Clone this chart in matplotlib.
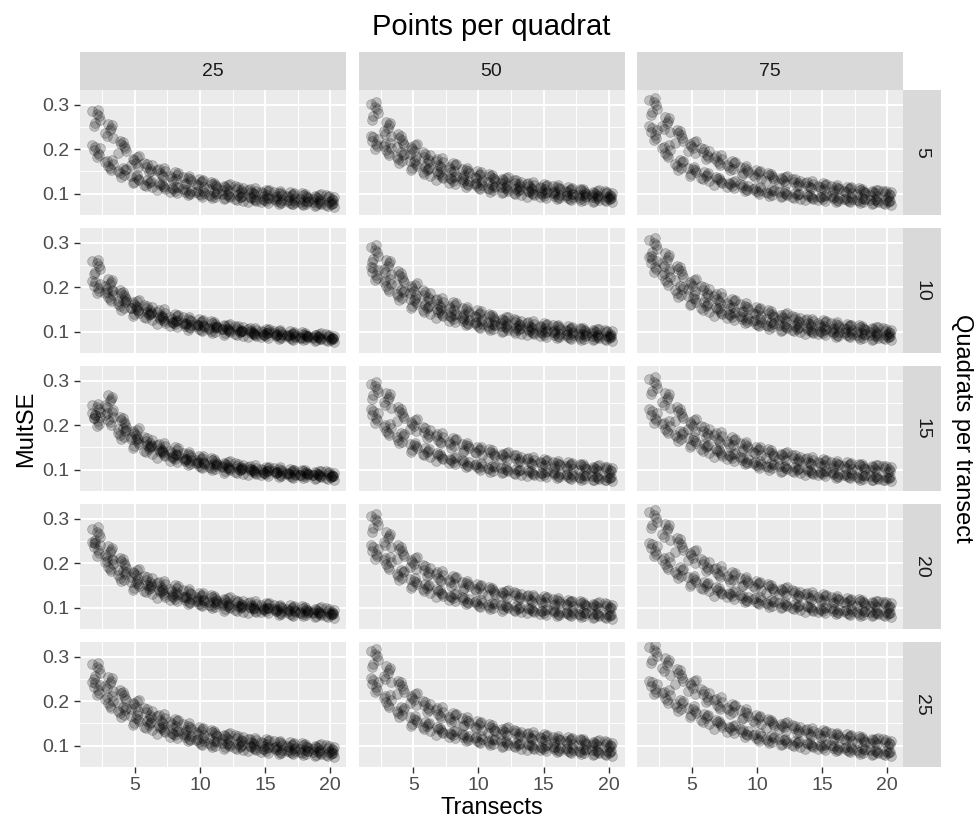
import numpy as np
import matplotlib.pyplot as plt

plt.rcParams['font.family'] = ['Liberation Sans', 'DejaVu Sans']

# facets
points_per_quadrat = [25, 50, 75]
quadrats_per_transect = [5, 10, 15, 20, 25]
transects = np.arange(2, 21)

# upper and lower band of MultSE for transects 2..20
hi_25_5 = [0.27, 0.24, 0.205, 0.172, 0.158, 0.148, 0.138, 0.13, 0.124, 0.118, 0.113, 0.109, 0.105, 0.102, 0.099, 0.096, 0.094, 0.092, 0.09]
lo_25_5 = [0.195, 0.165, 0.148, 0.132, 0.122, 0.116, 0.108, 0.103, 0.1, 0.096, 0.093, 0.09, 0.087, 0.085, 0.083, 0.081, 0.079, 0.077, 0.075]
hi_50_5 = [0.285, 0.245, 0.218, 0.198, 0.18, 0.168, 0.158, 0.148, 0.14, 0.134, 0.128, 0.123, 0.118, 0.114, 0.111, 0.107, 0.104, 0.101, 0.099]
lo_50_5 = [0.215, 0.2, 0.18, 0.165, 0.15, 0.14, 0.13, 0.124, 0.118, 0.112, 0.108, 0.104, 0.1, 0.097, 0.094, 0.092, 0.09, 0.088, 0.086]
hi_75_5 = [0.295, 0.255, 0.228, 0.205, 0.19, 0.175, 0.163, 0.152, 0.143, 0.137, 0.13, 0.125, 0.12, 0.116, 0.112, 0.108, 0.105, 0.102, 0.1]
lo_75_5 = [0.235, 0.195, 0.165, 0.15, 0.138, 0.128, 0.12, 0.113, 0.107, 0.102, 0.098, 0.095, 0.092, 0.09, 0.088, 0.086, 0.084, 0.082, 0.08]

hi_25_10 = [0.245, 0.205, 0.18, 0.16, 0.15, 0.14, 0.13, 0.125, 0.12, 0.115, 0.11, 0.106, 0.102, 0.1, 0.097, 0.094, 0.092, 0.09, 0.088]
lo_25_10 = [0.2, 0.18, 0.16, 0.145, 0.135, 0.125, 0.118, 0.112, 0.108, 0.104, 0.1, 0.097, 0.094, 0.092, 0.09, 0.088, 0.086, 0.084, 0.082]
hi_50_10 = [0.275, 0.245, 0.22, 0.195, 0.18, 0.165, 0.155, 0.145, 0.138, 0.13, 0.125, 0.12, 0.115, 0.112, 0.108, 0.105, 0.102, 0.1, 0.097]
lo_50_10 = [0.23, 0.205, 0.182, 0.165, 0.15, 0.14, 0.13, 0.122, 0.116, 0.11, 0.106, 0.102, 0.098, 0.095, 0.092, 0.09, 0.088, 0.086, 0.084]
hi_75_10 = [0.29, 0.258, 0.232, 0.205, 0.19, 0.175, 0.163, 0.153, 0.145, 0.138, 0.132, 0.126, 0.121, 0.117, 0.113, 0.11, 0.107, 0.104, 0.101]
lo_75_10 = [0.25, 0.22, 0.19, 0.17, 0.155, 0.145, 0.135, 0.127, 0.12, 0.114, 0.109, 0.105, 0.101, 0.098, 0.095, 0.093, 0.09, 0.088, 0.086]

hi_25_15 = [0.232, 0.25, 0.205, 0.18, 0.162, 0.15, 0.14, 0.13, 0.123, 0.117, 0.112, 0.107, 0.103, 0.1, 0.098, 0.095, 0.093, 0.091, 0.09]
lo_25_15 = [0.212, 0.215, 0.18, 0.16, 0.145, 0.135, 0.125, 0.118, 0.11, 0.105, 0.1, 0.097, 0.094, 0.092, 0.09, 0.088, 0.086, 0.084, 0.082]
hi_50_15 = [0.278, 0.255, 0.225, 0.2, 0.183, 0.17, 0.16, 0.15, 0.142, 0.136, 0.13, 0.125, 0.12, 0.116, 0.112, 0.109, 0.106, 0.103, 0.1]
lo_50_15 = [0.22, 0.19, 0.17, 0.15, 0.138, 0.128, 0.12, 0.113, 0.107, 0.102, 0.098, 0.095, 0.092, 0.09, 0.088, 0.085, 0.083, 0.081, 0.079]
hi_75_15 = [0.288, 0.255, 0.225, 0.2, 0.185, 0.172, 0.161, 0.152, 0.142, 0.136, 0.13, 0.125, 0.12, 0.116, 0.112, 0.109, 0.106, 0.104, 0.102]
lo_75_15 = [0.22, 0.195, 0.175, 0.162, 0.148, 0.137, 0.128, 0.12, 0.112, 0.107, 0.102, 0.098, 0.094, 0.091, 0.088, 0.086, 0.083, 0.081, 0.079]

hi_25_20 = [0.262, 0.222, 0.198, 0.175, 0.16, 0.15, 0.14, 0.132, 0.125, 0.12, 0.115, 0.11, 0.107, 0.104, 0.1, 0.098, 0.096, 0.094, 0.092]
lo_25_20 = [0.232, 0.195, 0.17, 0.15, 0.14, 0.13, 0.122, 0.115, 0.11, 0.105, 0.1, 0.097, 0.095, 0.093, 0.09, 0.088, 0.086, 0.084, 0.082]
hi_50_20 = [0.29, 0.252, 0.225, 0.2, 0.183, 0.17, 0.16, 0.15, 0.143, 0.137, 0.131, 0.126, 0.121, 0.117, 0.113, 0.11, 0.107, 0.105, 0.103]
lo_50_20 = [0.225, 0.2, 0.173, 0.155, 0.143, 0.132, 0.123, 0.115, 0.109, 0.104, 0.1, 0.096, 0.093, 0.09, 0.088, 0.086, 0.084, 0.082, 0.08]
hi_75_20 = [0.298, 0.27, 0.24, 0.215, 0.195, 0.18, 0.168, 0.158, 0.15, 0.143, 0.137, 0.131, 0.126, 0.122, 0.118, 0.114, 0.111, 0.108, 0.106]
lo_75_20 = [0.23, 0.2, 0.178, 0.16, 0.147, 0.136, 0.128, 0.12, 0.115, 0.109, 0.105, 0.101, 0.097, 0.094, 0.092, 0.09, 0.088, 0.086, 0.084]

hi_25_25 = [0.268, 0.238, 0.21, 0.19, 0.172, 0.16, 0.15, 0.14, 0.132, 0.126, 0.12, 0.115, 0.11, 0.107, 0.104, 0.101, 0.098, 0.096, 0.094]
lo_25_25 = [0.228, 0.198, 0.175, 0.157, 0.145, 0.135, 0.125, 0.117, 0.109, 0.104, 0.1, 0.096, 0.093, 0.09, 0.088, 0.086, 0.084, 0.082, 0.08]
hi_50_25 = [0.296, 0.26, 0.23, 0.205, 0.188, 0.174, 0.163, 0.153, 0.145, 0.138, 0.132, 0.127, 0.122, 0.118, 0.114, 0.111, 0.108, 0.105, 0.103]
lo_50_25 = [0.235, 0.2, 0.175, 0.155, 0.143, 0.133, 0.125, 0.118, 0.113, 0.108, 0.104, 0.1, 0.097, 0.094, 0.091, 0.089, 0.087, 0.085, 0.083]
hi_75_25 = [0.305, 0.278, 0.255, 0.232, 0.212, 0.195, 0.182, 0.17, 0.158, 0.15, 0.143, 0.137, 0.131, 0.126, 0.121, 0.117, 0.113, 0.11, 0.107]
lo_75_25 = [0.23, 0.21, 0.19, 0.176, 0.16, 0.148, 0.137, 0.128, 0.119, 0.113, 0.108, 0.104, 0.1, 0.097, 0.094, 0.091, 0.088, 0.085, 0.082]

bands = {
    (25, 5): (hi_25_5, lo_25_5), (50, 5): (hi_50_5, lo_50_5), (75, 5): (hi_75_5, lo_75_5),
    (25, 10): (hi_25_10, lo_25_10), (50, 10): (hi_50_10, lo_50_10), (75, 10): (hi_75_10, lo_75_10),
    (25, 15): (hi_25_15, lo_25_15), (50, 15): (hi_50_15, lo_50_15), (75, 15): (hi_75_15, lo_75_15),
    (25, 20): (hi_25_20, lo_25_20), (50, 20): (hi_50_20, lo_50_20), (75, 20): (hi_75_20, lo_75_20),
    (25, 25): (hi_25_25, lo_25_25), (50, 25): (hi_50_25, lo_50_25), (75, 25): (hi_75_25, lo_75_25),
}

# replicate scatter around each band value (jitter in x, relative spread in y)
jitter_x = np.array([-0.28, -0.08, 0.21, -0.17, 0.05, 0.29, 0.13])
spread_y = np.array([0.055, -0.04, 0.015, -0.065, 0.035, -0.015, 0.07])

W, H = 980, 822
fig = plt.figure(figsize=(W / 100, H / 100), dpi=100)

col_left = [80, 358.5, 637]
row_top = [90, 228, 366, 504, 642]
pw, ph = 266, 125
strip_h = 38

for r, q in enumerate(quadrats_per_transect):
    for c, p in enumerate(points_per_quadrat):
        l, t = col_left[c], row_top[r]
        ax = fig.add_axes([l / W, 1 - (t + ph) / H, pw / W, ph / H])
        ax.set_facecolor('#EBEBEB')
        for s in ax.spines.values():
            s.set_visible(False)

        hi, lo = bands[(p, q)]
        xs, ys = [], []
        for i, n in enumerate(transects):
            for j, band in enumerate((hi, lo)):
                xs.extend(n + np.roll(jitter_x, 3 * i + j))
                ys.extend(band[i] * (1 + np.roll(spread_y, 5 * i + 2 * j)))
        ax.scatter(xs, ys, s=50, color='black', alpha=0.2, edgecolors='black',
                   linewidths=0.6, zorder=3)

        ax.set_xlim(0.77, 21.23)
        ax.set_ylim(0.052, 0.333)
        ax.set_xticks([5, 10, 15, 20])
        ax.set_xticks([2.5, 7.5, 12.5, 17.5], minor=True)
        ax.set_yticks([0.1, 0.2, 0.3])
        ax.set_yticks([0.15, 0.25], minor=True)
        ax.set_yticklabels(['0.1', '0.2', '0.3'])
        ax.grid(which='major', color='white', linewidth=1.4)
        ax.grid(which='minor', color='white', linewidth=0.7)
        ax.set_axisbelow(True)
        ax.tick_params(which='minor', length=0)
        ax.tick_params(which='major', length=4.4, width=1.0, color='#333333',
                       labelsize=14, labelcolor='#4D4D4D', pad=3)
        if c != 0:
            ax.tick_params(axis='y', left=False, labelleft=False)
        if r != len(quadrats_per_transect) - 1:
            ax.tick_params(axis='x', bottom=False, labelbottom=False)

        # top strips
        if r == 0:
            sax = fig.add_axes([l / W, 1 - t / H, pw / W, strip_h / H])
            sax.set_facecolor('#D9D9D9')
            sax.set_xticks([])
            sax.set_yticks([])
            for s in sax.spines.values():
                s.set_visible(False)
            sax.text(0.5, 0.5, str(p), ha='center', va='center', fontsize=14,
                     color='#1A1A1A', transform=sax.transAxes)
        # right strips
        if c == len(points_per_quadrat) - 1:
            sax = fig.add_axes([(l + pw) / W, 1 - (t + ph) / H, strip_h / W, ph / H])
            sax.set_facecolor('#D9D9D9')
            sax.set_xticks([])
            sax.set_yticks([])
            for s in sax.spines.values():
                s.set_visible(False)
            sax.text(0.5, 0.5, str(q), ha='center', va='center', fontsize=14,
                     color='#1A1A1A', rotation=-90, transform=sax.transAxes)

cx = (col_left[0] + col_left[-1] + pw) / 2 / W
fig.text(cx, 1 - 27 / H, 'Points per quadrat', ha='center', va='center', fontsize=21)
fig.text(cx, 1 - 808 / H, 'Transects', ha='center', va='center', fontsize=17)
fig.text(26 / W, 1 - (row_top[0] + row_top[-1] + ph) / 2 / H, 'MultSE', ha='center',
         va='center', rotation=90, fontsize=17)
fig.text(962 / W, 1 - (row_top[0] + row_top[-1] + ph) / 2 / H, 'Quadrats per transect',
         ha='center', va='center', rotation=-90, fontsize=17)

fig.savefig('out.png', dpi=100)
